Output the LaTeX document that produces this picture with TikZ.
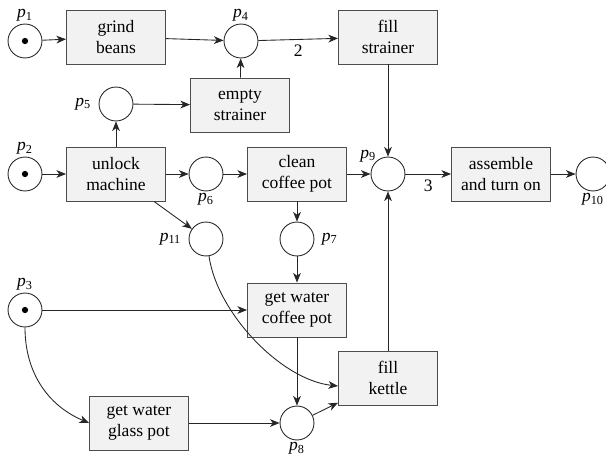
\documentclass[tikz,border=0pt]{standalone}
\usepackage{fontspec}
\setmainfont{Liberation Serif}
\usetikzlibrary{arrows.meta,calc}
\newcommand\pname[1]{\textit{p}\textsubscript{#1}}
\begin{document}
\begin{tikzpicture}[x=0.5714pt,y=-0.5714pt,
  place/.style={circle,draw=black!85,line width=0.5pt,minimum size=19.4pt,inner sep=0pt},
  trans/.style={rectangle,draw=black!70,fill=black!5,line width=0.5pt,
    minimum width=56.6pt,minimum height=30.9pt,align=center,inner sep=2pt},
  arc/.style={-{Stealth[length=5.5pt,width=4.4pt,inset=1.6pt]},line width=0.5pt,draw=black!85},
  tok/.style={circle,fill=black,inner sep=0pt,minimum size=3.6pt},
  plab/.style={inner sep=1pt}]
\useasboundingbox (0,0) rectangle (606,461);

% places
\node[place,label={[plab]above:\pname{1}}] (p1) at (25,41) {};
\node[place,label={[plab]above:\pname{2}}] (p2) at (25,174) {};
\node[place,label={[plab]above:\pname{3}}] (p3) at (25,310) {};
\node[place,label={[plab]above:\pname{4}}] (p4) at (241,41) {};
\node[place,label={[plab,label distance=3pt]left:\pname{5}}] (p5) at (116,104) {};
\node[place,label={[plab]below:\pname{6}}] (p6) at (206,174) {};
\node[place,label={[plab,label distance=3pt]right:\pname{7}}] (p7) at (297,239) {};
\node[place,label={[plab]below:\pname{8}}] (p8) at (297,423) {};
\node[place,label={[plab,label distance=-2pt]above left:\pname{9}}] (p9) at (388,174) {};
\node[place,label={[plab]below:\pname{10}}] (p10) at (593,174) {};
\node[place,label={[plab,label distance=3pt]left:\pname{11}}] (p11) at (206,239) {};

% tokens
\node[tok] (t1) at (p1) {};
\node[tok] (t2) at (p2) {};
\node[tok] (t3) at (p3) {};

% transitions
\node[trans] (grind) at (116,37) {grind\\beans};
\node[trans] (empty) at (240,105) {empty\\strainer};
\node[trans] (fillS) at (388,37) {fill\\strainer};
\node[trans] (unlock) at (116,174) {unlock\\machine};
\node[trans] (clean) at (297,174) {clean\\coffee pot};
\node[trans] (assemble) at (501,174) {assemble\\and turn on};
\node[trans] (waterC) at (297,310) {get water\\coffee pot};
\node[trans] (kettle) at (388,378) {fill\\kettle};
\node[trans] (waterG) at (139,423) {get water\\glass pot};

% arcs
\draw[arc] (p1) -- (grind);
\draw[arc] (grind) -- (p4);
\draw[arc] (p4) -- node[below,inner sep=3pt] {2} (fillS);
\draw[arc] (empty) -- (p4);
\draw[arc] (p5) -- (empty);
\draw[arc] (unlock) -- (p5);
\draw[arc] (p2) -- (unlock);
\draw[arc] (unlock) -- (p6);
\draw[arc] (unlock) -- (p11);
\draw[arc] (p6) -- (clean);
\draw[arc] (clean) -- (p9);
\draw[arc] (fillS) -- (p9);
\draw[arc] (p9) -- node[below,inner sep=3pt] {3} (assemble);
\draw[arc] (assemble) -- (p10);
\draw[arc] (clean) -- (p7);
\draw[arc] (p7) -- (waterC);
\draw[arc] (p3) -- (waterC);
\draw[arc] (p3.south) to[out=-90,in=157] (waterG.west);
\draw[arc] (waterG) -- (p8);
\draw[arc] (waterC) -- (p8);
\draw[arc] (p11.-80) to[out=-82,in=174,looseness=0.8] ($(kettle.west)+(0,8)$);
\draw[arc] (p8) -- (kettle);
\draw[arc] (kettle) -- (p9);
\end{tikzpicture}
\end{document}
